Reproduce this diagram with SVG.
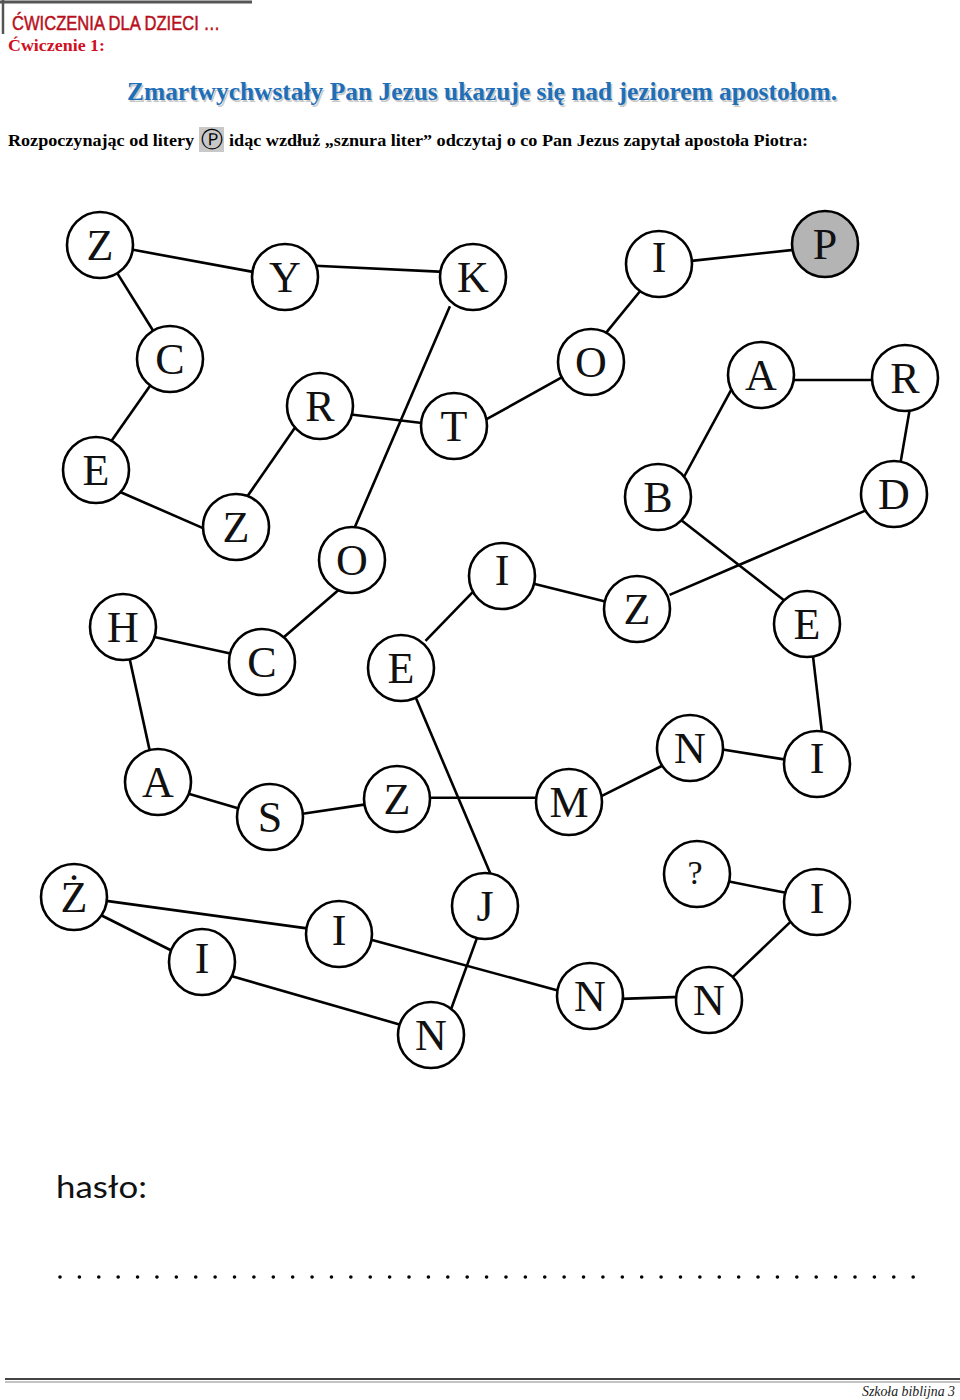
<svg xmlns="http://www.w3.org/2000/svg" width="960" height="1400" viewBox="0 0 960 1400">
<style>
.n circle{fill:#fff;stroke:#000;stroke-width:2.6}
.n text{font-family:"Liberation Serif","DejaVu Serif",serif;font-size:44px;text-anchor:middle;fill:#111}
#edges line{stroke:#000;stroke-width:2.6}
.hdr{font-family:"Liberation Serif",serif;font-weight:bold}
</style>
<rect width="960" height="1400" fill="#fff"/>
<line x1="0" y1="2" x2="252" y2="2" stroke="#555" stroke-width="3"/>
<line x1="3" y1="0" x2="3" y2="34" stroke="#555" stroke-width="2.5"/>
<text x="12" y="30" font-family="'Liberation Sans',Arial,sans-serif" font-size="20" fill="#b8101c" stroke="#b8101c" stroke-width="0.5" textLength="208" lengthAdjust="spacingAndGlyphs">ĆWICZENIA DLA DZIECI …</text>
<text x="8" y="51" class="hdr" font-size="17" fill="#d0101e" textLength="97" lengthAdjust="spacingAndGlyphs">Ćwiczenie 1:</text>
<text x="128.5" y="101.5" class="hdr" font-size="25" fill="#c9c9c9" textLength="710" lengthAdjust="spacingAndGlyphs">Zmartwychwstały Pan Jezus ukazuje się nad jeziorem apostołom.</text>
<text x="127" y="100" class="hdr" font-size="25" fill="#1e6fb8" textLength="710" lengthAdjust="spacingAndGlyphs">Zmartwychwstały Pan Jezus ukazuje się nad jeziorem apostołom.</text>
<text x="8" y="146" class="hdr" font-size="17" fill="#000" textLength="186" lengthAdjust="spacingAndGlyphs">Rozpoczynając od litery</text>
<rect x="199" y="127" width="25" height="25" fill="#c8c8c8"/>
<text x="211.5" y="147" font-family="'DejaVu Sans',sans-serif" font-size="22" text-anchor="middle" fill="#000">Ⓟ</text>
<text x="229" y="146" class="hdr" font-size="17" fill="#000" textLength="579" lengthAdjust="spacingAndGlyphs">idąc wzdłuż „sznura liter” odczytaj o co Pan Jezus zapytał apostoła Piotra:</text>

<g id="edges">
<line x1="130.4" y1="249.3" x2="255.6" y2="272.4"/>
<line x1="315.3" y1="265.8" x2="444" y2="271.9"/>
<line x1="116.9" y1="272.6" x2="153.8" y2="331.7"/>
<line x1="150.6" y1="385" x2="111" y2="441.6"/>
<line x1="119.6" y1="491.7" x2="207" y2="529.9"/>
<line x1="246" y1="498.3" x2="295.6" y2="426.7"/>
<line x1="351" y1="414.5" x2="424" y2="423.2"/>
<line x1="449.9" y1="306.3" x2="353.4" y2="530.4"/>
<line x1="484.8" y1="420.2" x2="563.5" y2="376.4"/>
<line x1="605.8" y1="333.1" x2="640.8" y2="290.2"/>
<line x1="689.3" y1="261.1" x2="795.7" y2="249.6"/>
<line x1="791" y1="380" x2="875.7" y2="380"/>
<line x1="731.2" y1="389.8" x2="683.1" y2="478.5"/>
<line x1="910" y1="407.8" x2="900" y2="465.6"/>
<line x1="680.1" y1="519.2" x2="784.9" y2="601"/>
<line x1="866.4" y1="510.1" x2="669.6" y2="594.9"/>
<line x1="532.8" y1="583.6" x2="607.2" y2="602"/>
<line x1="425.5" y1="640.9" x2="476.1" y2="588.7"/>
<line x1="339.7" y1="588.9" x2="282" y2="638.8"/>
<line x1="154.4" y1="637" x2="233.9" y2="654.2"/>
<line x1="129.1" y1="656.4" x2="150.2" y2="752.9"/>
<line x1="186.9" y1="793.2" x2="240.5" y2="809.1"/>
<line x1="302.7" y1="813.8" x2="367.3" y2="804.1"/>
<line x1="427.7" y1="797.8" x2="539" y2="797.8"/>
<line x1="415.1" y1="696.1" x2="491.6" y2="876.4"/>
<line x1="601.4" y1="796.1" x2="663.6" y2="765"/>
<line x1="719.4" y1="749" x2="787.2" y2="759.9"/>
<line x1="812.8" y1="654.6" x2="822.2" y2="734.7"/>
<line x1="102.7" y1="900.4" x2="310.7" y2="928.9"/>
<line x1="99.7" y1="914.5" x2="175.3" y2="952.5"/>
<line x1="231.2" y1="976" x2="403.8" y2="1025.7"/>
<line x1="369.4" y1="939.2" x2="560.6" y2="991.3"/>
<line x1="478.1" y1="934.9" x2="450.3" y2="1011.2"/>
<line x1="621" y1="998.9" x2="680" y2="996.9"/>
<line x1="732.1" y1="977.6" x2="790.2" y2="922.1"/>
<line x1="727.8" y1="881.2" x2="787.2" y2="893.1"/>
</g>

<g id="n-z1" class="n"><circle cx="100" cy="245" r="33"/><text x="100" y="260">Z</text></g>
<g id="n-y" class="n"><circle cx="285" cy="277" r="33"/><text x="285" y="292">Y</text></g>
<g id="n-k" class="n"><circle cx="473" cy="277" r="33"/><text x="473" y="292">K</text></g>
<g id="n-c1" class="n"><circle cx="170" cy="359" r="33"/><text x="170" y="374">C</text></g>
<g id="n-e1" class="n"><circle cx="96" cy="470" r="33"/><text x="96" y="485">E</text></g>
<g id="n-z2" class="n"><circle cx="236" cy="527" r="33"/><text x="236" y="542">Z</text></g>
<g id="n-r1" class="n"><circle cx="320" cy="406" r="33"/><text x="320" y="421">R</text></g>
<g id="n-t" class="n"><circle cx="454" cy="426" r="33"/><text x="454" y="441">T</text></g>
<g id="n-o1" class="n"><circle cx="591" cy="362" r="33"/><text x="591" y="377">O</text></g>
<g id="n-i1" class="n"><circle cx="659" cy="264" r="33"/><text x="659" y="272">I</text></g>
<g id="n-p" class="n"><circle cx="825" cy="244" r="33" style="fill:#b4b4b4"/><text x="825" y="259">P</text></g>
<g id="n-a1" class="n"><circle cx="761" cy="375" r="33"/><text x="761" y="390">A</text></g>
<g id="n-r2" class="n"><circle cx="905" cy="378" r="33"/><text x="905" y="393">R</text></g>
<g id="n-b" class="n"><circle cx="658" cy="497" r="33"/><text x="658" y="512">B</text></g>
<g id="n-d" class="n"><circle cx="894" cy="494" r="33"/><text x="894" y="509">D</text></g>
<g id="n-o2" class="n"><circle cx="352" cy="560" r="33"/><text x="352" y="575">O</text></g>
<g id="n-h" class="n"><circle cx="123" cy="627" r="33"/><text x="123" y="642">H</text></g>
<g id="n-c2" class="n"><circle cx="262" cy="662" r="33"/><text x="262" y="677">C</text></g>
<g id="n-e2" class="n"><circle cx="401" cy="668" r="33"/><text x="401" y="683">E</text></g>
<g id="n-i2" class="n"><circle cx="502" cy="576" r="33"/><text x="502" y="585">I</text></g>
<g id="n-z3" class="n"><circle cx="637" cy="609" r="33"/><text x="637" y="624">Z</text></g>
<g id="n-e3" class="n"><circle cx="807" cy="624" r="33"/><text x="807" y="639">E</text></g>
<g id="n-a2" class="n"><circle cx="158" cy="782" r="33"/><text x="158" y="797">A</text></g>
<g id="n-s" class="n"><circle cx="270" cy="817" r="33"/><text x="270" y="832">S</text></g>
<g id="n-z4" class="n"><circle cx="397" cy="799" r="33"/><text x="397" y="814">Z</text></g>
<g id="n-m" class="n"><circle cx="569" cy="802" r="33"/><text x="569" y="817">M</text></g>
<g id="n-n1" class="n"><circle cx="690" cy="748" r="33"/><text x="690" y="763">N</text></g>
<g id="n-i3" class="n"><circle cx="817" cy="764" r="33"/><text x="817" y="773">I</text></g>
<g id="n-zz" class="n"><circle cx="74" cy="897" r="33"/><text x="74" y="912">Ż</text></g>
<g id="n-i4" class="n"><circle cx="202" cy="962" r="33"/><text x="202" y="973">I</text></g>
<g id="n-i5" class="n"><circle cx="339" cy="934" r="33"/><text x="339" y="945">I</text></g>
<g id="n-j" class="n"><circle cx="485" cy="906" r="33"/><text x="485" y="921">J</text></g>
<g id="n-n2" class="n"><circle cx="431" cy="1035" r="33"/><text x="431" y="1050">N</text></g>
<g id="n-n3" class="n"><circle cx="590" cy="996" r="33"/><text x="590" y="1011">N</text></g>
<g id="n-n4" class="n"><circle cx="709" cy="1000" r="33"/><text x="709" y="1015">N</text></g>
<g id="n-q" class="n"><circle cx="697" cy="874" r="33"/><text x="695" y="884" style="font-size:34px">?</text></g>
<g id="n-i6" class="n"><circle cx="817" cy="902" r="33"/><text x="817" y="913">I</text></g>

<text x="56" y="1198" font-family="Lato,'Open Sans',sans-serif" font-size="31" fill="#111" textLength="91" lengthAdjust="spacingAndGlyphs">hasło:</text>
<line x1="60" y1="1277" x2="914" y2="1277" stroke="#000" stroke-width="3.6" stroke-linecap="round" stroke-dasharray="0 19.39"/>

<line x1="5" y1="1379" x2="960" y2="1379" stroke="#444" stroke-width="2"/>
<line x1="5" y1="1382" x2="960" y2="1382" stroke="#888" stroke-width="1"/>
<text x="955" y="1396" font-family="'Liberation Serif',serif" font-style="italic" font-size="14" text-anchor="end" fill="#222" textLength="93" lengthAdjust="spacingAndGlyphs">Szkoła biblijna   3</text>
</svg>
